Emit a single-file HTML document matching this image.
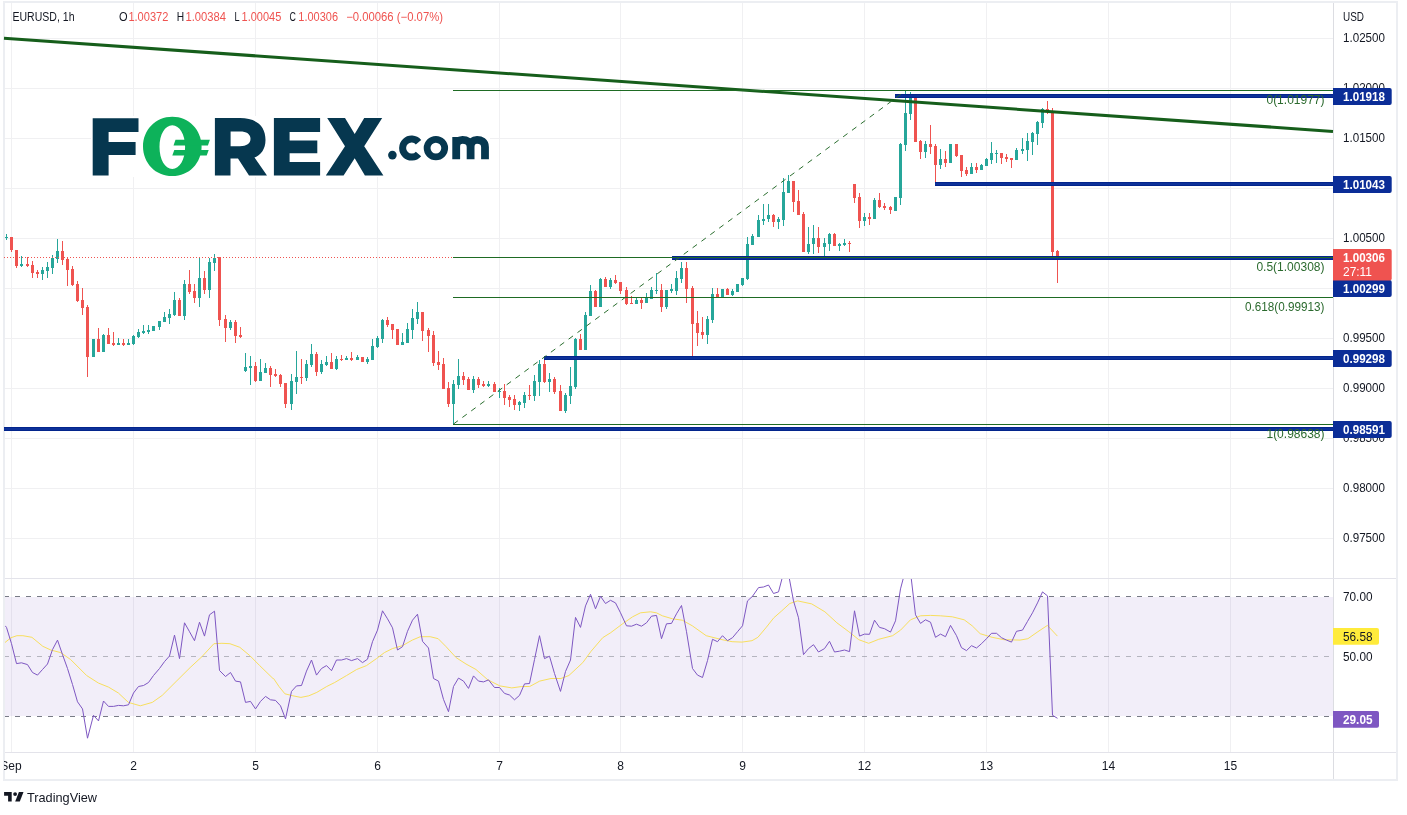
<!DOCTYPE html>
<html><head><meta charset="utf-8"><style>
html,body{margin:0;padding:0;background:#fff;overflow:hidden}
svg{display:block;font-family:"Liberation Sans", sans-serif;will-change:transform}
</style></head><body>
<svg width="1407" height="815" viewBox="0 0 1407 815">
<rect x="0" y="0" width="1407" height="815" fill="#fff"/>
<rect x="11" y="3" width="1" height="749" fill="#f0f0f2"/>
<rect x="133" y="3" width="1" height="749" fill="#f0f0f2"/>
<rect x="255" y="3" width="1" height="749" fill="#f0f0f2"/>
<rect x="377" y="3" width="1" height="749" fill="#f0f0f2"/>
<rect x="499" y="3" width="1" height="749" fill="#f0f0f2"/>
<rect x="620" y="3" width="1" height="749" fill="#f0f0f2"/>
<rect x="742" y="3" width="1" height="749" fill="#f0f0f2"/>
<rect x="864" y="3" width="1" height="749" fill="#f0f0f2"/>
<rect x="986" y="3" width="1" height="749" fill="#f0f0f2"/>
<rect x="1108" y="3" width="1" height="749" fill="#f0f0f2"/>
<rect x="1230" y="3" width="1" height="749" fill="#f0f0f2"/>
<rect x="4" y="38" width="1329" height="1" fill="#f0f0f2"/>
<rect x="4" y="88" width="1329" height="1" fill="#f0f0f2"/>
<rect x="4" y="138" width="1329" height="1" fill="#f0f0f2"/>
<rect x="4" y="188" width="1329" height="1" fill="#f0f0f2"/>
<rect x="4" y="238" width="1329" height="1" fill="#f0f0f2"/>
<rect x="4" y="288" width="1329" height="1" fill="#f0f0f2"/>
<rect x="4" y="338" width="1329" height="1" fill="#f0f0f2"/>
<rect x="4" y="388" width="1329" height="1" fill="#f0f0f2"/>
<rect x="4" y="438" width="1329" height="1" fill="#f0f0f2"/>
<rect x="4" y="488" width="1329" height="1" fill="#f0f0f2"/>
<rect x="4" y="538" width="1329" height="1" fill="#f0f0f2"/>
<rect x="5" y="597" width="1328" height="119" fill="#7e57c2" fill-opacity="0.1"/>
<line x1="4" y1="596.5" x2="1333" y2="596.5" stroke="#787b86" stroke-opacity="1" stroke-width="1" stroke-dasharray="5 6"/>
<line x1="4" y1="656.5" x2="1333" y2="656.5" stroke="#787b86" stroke-opacity="0.5" stroke-width="1" stroke-dasharray="5 6"/>
<line x1="4" y1="716.5" x2="1333" y2="716.5" stroke="#787b86" stroke-opacity="1" stroke-width="1" stroke-dasharray="5 6"/>
<rect x="3" y="1" width="1395" height="2" fill="#eceef2"/>
<rect x="3" y="1" width="2" height="780" fill="#eceef2"/>
<rect x="1396" y="1" width="2" height="780" fill="#eceef2"/>
<rect x="3" y="779" width="1395" height="2" fill="#eceef2"/>
<rect x="1333" y="3" width="1" height="776" fill="#dcdde2"/>
<rect x="5" y="578" width="1391" height="1" fill="#e3e3ea"/>
<rect x="5" y="752" width="1391" height="1" fill="#e3e3ea"/>
<rect x="91" y="116" width="399" height="61" fill="#fff"/>
<path d="M92.7 118.3 H138.5 V131.9 H108.6 V142 H135.6 V155 H108.6 V175.5 H92.7 Z" fill="#06374f"/>
<path d="M172.3 116.7 C189 116.7 201.6 130 201.6 146.4 C201.6 162.8 189 176.1 172.3 176.1 C155.6 176.1 143 162.8 143 146.4 C143 130 155.6 116.7 172.3 116.7 Z M172.3 125.3 C165 125.3 159.5 134.5 159.5 147.1 C159.5 159.7 165 168.9 172.3 168.9 C179.6 168.9 185.1 159.7 185.1 147.1 C185.1 134.5 179.6 125.3 172.3 125.3 Z" fill="#0db25a" fill-rule="evenodd"/>
<path d="M175.5 139.7 H209.9 L207.9 145.4 H173.5 Z M174.3 150 H208.7 L206.7 155.6 H172.3 Z" fill="#0db25a"/>
<path d="M214.9 118.1 H240 C256 118.1 265.5 125.5 265.5 140 C265.5 149 261 155 254.5 157.5 L267 175.4 H249 L238 158.5 H230.5 V175.4 H214.9 Z M230.6 131.5 V146.2 H240 C246.5 146.2 250.5 143.5 250.5 138.8 C250.5 134 246.5 131.5 240 131.5 Z" fill="#06374f" fill-rule="evenodd"/>
<path d="M273.9 118.1 H320.1 V132 H289.6 V140.5 H317.3 V153.3 H289.6 V161.9 H320.1 V175.4 H273.9 Z" fill="#06374f"/>
<path d="M327.2 118.1 H345 L354.7 134.1 L364.2 118.1 H382.2 L364.2 146.2 L383.4 175.4 H364.9 L354.7 158.3 L343.6 175.4 H325.8 L345 146.2 Z" fill="#06374f"/>
<circle cx="392.4" cy="155.1" r="4.3" fill="#06374f"/>
<path d="M418.5 142.3 A9 9 0 1 0 418.5 153.9" fill="none" stroke="#06374f" stroke-width="7"/>
<circle cx="435.9" cy="148.1" r="8.8" fill="none" stroke="#06374f" stroke-width="6.8"/>
<path d="M456.2 159.3 V137 M456.2 147 C456.2 141.5 459 139.8 462.5 139.8 C466.5 139.8 470.6 141.5 470.6 147 V159.3 M470.6 147 C470.6 141.5 473.5 139.8 477 139.8 C481 139.8 485 141.5 485 147 V159.3" fill="none" stroke="#06374f" stroke-width="7.8"/>
<rect x="6" y="234" width="1" height="6" fill="#26a69a"/>
<rect x="5" y="237" width="3" height="1" fill="#26a69a"/>
<rect x="11" y="237" width="1" height="15" fill="#ef5350"/>
<rect x="10" y="237" width="3" height="13" fill="#ef5350"/>
<rect x="16" y="250" width="1" height="18" fill="#ef5350"/>
<rect x="15" y="250" width="3" height="16" fill="#ef5350"/>
<rect x="21" y="256" width="1" height="11" fill="#26a69a"/>
<rect x="20" y="264" width="3" height="2" fill="#26a69a"/>
<rect x="27" y="257" width="1" height="10" fill="#ef5350"/>
<rect x="26" y="264" width="3" height="2" fill="#ef5350"/>
<rect x="32" y="261" width="1" height="17" fill="#ef5350"/>
<rect x="31" y="265" width="3" height="8" fill="#ef5350"/>
<rect x="37" y="270" width="1" height="8" fill="#ef5350"/>
<rect x="36" y="272" width="3" height="2" fill="#ef5350"/>
<rect x="42" y="267" width="1" height="13" fill="#26a69a"/>
<rect x="41" y="270" width="3" height="4" fill="#26a69a"/>
<rect x="47" y="262" width="1" height="16" fill="#26a69a"/>
<rect x="46" y="267" width="3" height="4" fill="#26a69a"/>
<rect x="52" y="255" width="1" height="19" fill="#26a69a"/>
<rect x="51" y="258" width="3" height="10" fill="#26a69a"/>
<rect x="57" y="239" width="1" height="24" fill="#26a69a"/>
<rect x="56" y="251" width="3" height="8" fill="#26a69a"/>
<rect x="62" y="241" width="1" height="24" fill="#ef5350"/>
<rect x="61" y="251" width="3" height="9" fill="#ef5350"/>
<rect x="67" y="257" width="1" height="29" fill="#ef5350"/>
<rect x="66" y="259" width="3" height="11" fill="#ef5350"/>
<rect x="72" y="266" width="1" height="20" fill="#ef5350"/>
<rect x="71" y="269" width="3" height="16" fill="#ef5350"/>
<rect x="77" y="281" width="1" height="21" fill="#ef5350"/>
<rect x="76" y="284" width="3" height="17" fill="#ef5350"/>
<rect x="82" y="288" width="1" height="27" fill="#ef5350"/>
<rect x="81" y="300" width="3" height="8" fill="#ef5350"/>
<rect x="87" y="305" width="1" height="72" fill="#ef5350"/>
<rect x="86" y="307" width="3" height="50" fill="#ef5350"/>
<rect x="93" y="339" width="1" height="18" fill="#26a69a"/>
<rect x="92" y="339" width="3" height="18" fill="#26a69a"/>
<rect x="98" y="328" width="1" height="24" fill="#ef5350"/>
<rect x="97" y="339" width="3" height="13" fill="#ef5350"/>
<rect x="103" y="334" width="1" height="18" fill="#26a69a"/>
<rect x="102" y="335" width="3" height="17" fill="#26a69a"/>
<rect x="108" y="328" width="1" height="16" fill="#ef5350"/>
<rect x="107" y="335" width="3" height="9" fill="#ef5350"/>
<rect x="113" y="332" width="1" height="14" fill="#ef5350"/>
<rect x="112" y="343" width="3" height="2" fill="#ef5350"/>
<rect x="118" y="338" width="1" height="7" fill="#26a69a"/>
<rect x="117" y="343" width="3" height="2" fill="#26a69a"/>
<rect x="123" y="339" width="1" height="7" fill="#ef5350"/>
<rect x="122" y="343" width="3" height="2" fill="#ef5350"/>
<rect x="128" y="339" width="1" height="6" fill="#26a69a"/>
<rect x="127" y="343" width="3" height="2" fill="#26a69a"/>
<rect x="133" y="335" width="1" height="10" fill="#26a69a"/>
<rect x="132" y="336" width="3" height="8" fill="#26a69a"/>
<rect x="138" y="329" width="1" height="9" fill="#26a69a"/>
<rect x="137" y="332" width="3" height="5" fill="#26a69a"/>
<rect x="143" y="325" width="1" height="9" fill="#26a69a"/>
<rect x="142" y="331" width="3" height="2" fill="#26a69a"/>
<rect x="148" y="325" width="1" height="9" fill="#26a69a"/>
<rect x="147" y="330" width="3" height="2" fill="#26a69a"/>
<rect x="153" y="326" width="1" height="5" fill="#26a69a"/>
<rect x="152" y="326" width="3" height="5" fill="#26a69a"/>
<rect x="159" y="321" width="1" height="9" fill="#26a69a"/>
<rect x="158" y="321" width="3" height="6" fill="#26a69a"/>
<rect x="164" y="312" width="1" height="10" fill="#26a69a"/>
<rect x="163" y="317" width="3" height="5" fill="#26a69a"/>
<rect x="169" y="309" width="1" height="15" fill="#26a69a"/>
<rect x="168" y="314" width="3" height="4" fill="#26a69a"/>
<rect x="174" y="292" width="1" height="24" fill="#26a69a"/>
<rect x="173" y="300" width="3" height="15" fill="#26a69a"/>
<rect x="179" y="298" width="1" height="18" fill="#ef5350"/>
<rect x="178" y="300" width="3" height="16" fill="#ef5350"/>
<rect x="184" y="280" width="1" height="40" fill="#26a69a"/>
<rect x="183" y="284" width="3" height="32" fill="#26a69a"/>
<rect x="189" y="270" width="1" height="24" fill="#ef5350"/>
<rect x="188" y="284" width="3" height="8" fill="#ef5350"/>
<rect x="194" y="284" width="1" height="19" fill="#ef5350"/>
<rect x="193" y="291" width="3" height="7" fill="#ef5350"/>
<rect x="199" y="257" width="1" height="50" fill="#26a69a"/>
<rect x="198" y="278" width="3" height="20" fill="#26a69a"/>
<rect x="204" y="271" width="1" height="23" fill="#ef5350"/>
<rect x="203" y="278" width="3" height="12" fill="#ef5350"/>
<rect x="209" y="258" width="1" height="40" fill="#26a69a"/>
<rect x="208" y="262" width="3" height="28" fill="#26a69a"/>
<rect x="214" y="254" width="1" height="17" fill="#26a69a"/>
<rect x="213" y="258" width="3" height="5" fill="#26a69a"/>
<rect x="219" y="257" width="1" height="69" fill="#ef5350"/>
<rect x="218" y="257" width="3" height="63" fill="#ef5350"/>
<rect x="225" y="315" width="1" height="27" fill="#ef5350"/>
<rect x="224" y="319" width="3" height="9" fill="#ef5350"/>
<rect x="230" y="320" width="1" height="10" fill="#26a69a"/>
<rect x="229" y="322" width="3" height="6" fill="#26a69a"/>
<rect x="235" y="320" width="1" height="23" fill="#ef5350"/>
<rect x="234" y="322" width="3" height="14" fill="#ef5350"/>
<rect x="240" y="327" width="1" height="11" fill="#ef5350"/>
<rect x="239" y="335" width="3" height="2" fill="#ef5350"/>
<rect x="245" y="353" width="1" height="19" fill="#26a69a"/>
<rect x="244" y="367" width="3" height="4" fill="#26a69a"/>
<rect x="250" y="356" width="1" height="29" fill="#26a69a"/>
<rect x="249" y="366" width="3" height="2" fill="#26a69a"/>
<rect x="255" y="362" width="1" height="20" fill="#ef5350"/>
<rect x="254" y="366" width="3" height="15" fill="#ef5350"/>
<rect x="260" y="359" width="1" height="22" fill="#26a69a"/>
<rect x="259" y="372" width="3" height="9" fill="#26a69a"/>
<rect x="265" y="363" width="1" height="10" fill="#26a69a"/>
<rect x="264" y="368" width="3" height="5" fill="#26a69a"/>
<rect x="270" y="366" width="1" height="21" fill="#ef5350"/>
<rect x="269" y="368" width="3" height="7" fill="#ef5350"/>
<rect x="275" y="369" width="1" height="8" fill="#ef5350"/>
<rect x="274" y="374" width="3" height="2" fill="#ef5350"/>
<rect x="280" y="374" width="1" height="13" fill="#ef5350"/>
<rect x="279" y="375" width="3" height="9" fill="#ef5350"/>
<rect x="285" y="383" width="1" height="25" fill="#ef5350"/>
<rect x="284" y="383" width="3" height="21" fill="#ef5350"/>
<rect x="291" y="374" width="1" height="36" fill="#26a69a"/>
<rect x="290" y="381" width="3" height="23" fill="#26a69a"/>
<rect x="296" y="351" width="1" height="43" fill="#26a69a"/>
<rect x="295" y="377" width="3" height="5" fill="#26a69a"/>
<rect x="301" y="359" width="1" height="25" fill="#ef5350"/>
<rect x="300" y="377" width="3" height="1" fill="#ef5350"/>
<rect x="306" y="360" width="1" height="21" fill="#26a69a"/>
<rect x="305" y="364" width="3" height="14" fill="#26a69a"/>
<rect x="311" y="344" width="1" height="23" fill="#26a69a"/>
<rect x="310" y="354" width="3" height="11" fill="#26a69a"/>
<rect x="316" y="352" width="1" height="24" fill="#ef5350"/>
<rect x="315" y="354" width="3" height="18" fill="#ef5350"/>
<rect x="321" y="360" width="1" height="14" fill="#26a69a"/>
<rect x="320" y="364" width="3" height="8" fill="#26a69a"/>
<rect x="326" y="356" width="1" height="10" fill="#26a69a"/>
<rect x="325" y="362" width="3" height="3" fill="#26a69a"/>
<rect x="331" y="353" width="1" height="16" fill="#ef5350"/>
<rect x="330" y="362" width="3" height="7" fill="#ef5350"/>
<rect x="336" y="356" width="1" height="14" fill="#26a69a"/>
<rect x="335" y="359" width="3" height="10" fill="#26a69a"/>
<rect x="341" y="355" width="1" height="6" fill="#ef5350"/>
<rect x="340" y="359" width="3" height="1" fill="#ef5350"/>
<rect x="346" y="356" width="1" height="4" fill="#26a69a"/>
<rect x="345" y="358" width="3" height="2" fill="#26a69a"/>
<rect x="351" y="352" width="1" height="9" fill="#ef5350"/>
<rect x="350" y="358" width="3" height="2" fill="#ef5350"/>
<rect x="357" y="355" width="1" height="5" fill="#26a69a"/>
<rect x="356" y="357" width="3" height="3" fill="#26a69a"/>
<rect x="362" y="357" width="1" height="5" fill="#ef5350"/>
<rect x="361" y="357" width="3" height="5" fill="#ef5350"/>
<rect x="367" y="357" width="1" height="7" fill="#26a69a"/>
<rect x="366" y="359" width="3" height="3" fill="#26a69a"/>
<rect x="372" y="339" width="1" height="21" fill="#26a69a"/>
<rect x="371" y="346" width="3" height="14" fill="#26a69a"/>
<rect x="377" y="336" width="1" height="12" fill="#26a69a"/>
<rect x="376" y="338" width="3" height="9" fill="#26a69a"/>
<rect x="382" y="319" width="1" height="24" fill="#26a69a"/>
<rect x="381" y="320" width="3" height="19" fill="#26a69a"/>
<rect x="387" y="317" width="1" height="10" fill="#ef5350"/>
<rect x="386" y="320" width="3" height="5" fill="#ef5350"/>
<rect x="392" y="324" width="1" height="15" fill="#ef5350"/>
<rect x="391" y="324" width="3" height="6" fill="#ef5350"/>
<rect x="397" y="329" width="1" height="16" fill="#ef5350"/>
<rect x="396" y="329" width="3" height="16" fill="#ef5350"/>
<rect x="402" y="333" width="1" height="12" fill="#26a69a"/>
<rect x="401" y="342" width="3" height="3" fill="#26a69a"/>
<rect x="407" y="323" width="1" height="20" fill="#26a69a"/>
<rect x="406" y="329" width="3" height="14" fill="#26a69a"/>
<rect x="412" y="309" width="1" height="30" fill="#26a69a"/>
<rect x="411" y="318" width="3" height="12" fill="#26a69a"/>
<rect x="417" y="302" width="1" height="22" fill="#26a69a"/>
<rect x="416" y="312" width="3" height="7" fill="#26a69a"/>
<rect x="422" y="312" width="1" height="29" fill="#ef5350"/>
<rect x="421" y="312" width="3" height="19" fill="#ef5350"/>
<rect x="428" y="328" width="1" height="24" fill="#ef5350"/>
<rect x="427" y="330" width="3" height="6" fill="#ef5350"/>
<rect x="433" y="331" width="1" height="35" fill="#ef5350"/>
<rect x="432" y="335" width="3" height="28" fill="#ef5350"/>
<rect x="438" y="351" width="1" height="19" fill="#ef5350"/>
<rect x="437" y="362" width="3" height="3" fill="#ef5350"/>
<rect x="443" y="358" width="1" height="31" fill="#ef5350"/>
<rect x="442" y="364" width="3" height="25" fill="#ef5350"/>
<rect x="448" y="382" width="1" height="25" fill="#ef5350"/>
<rect x="447" y="388" width="3" height="16" fill="#ef5350"/>
<rect x="453" y="380" width="1" height="44" fill="#26a69a"/>
<rect x="452" y="384" width="3" height="20" fill="#26a69a"/>
<rect x="458" y="359" width="1" height="30" fill="#26a69a"/>
<rect x="457" y="376" width="3" height="9" fill="#26a69a"/>
<rect x="463" y="372" width="1" height="13" fill="#ef5350"/>
<rect x="462" y="376" width="3" height="4" fill="#ef5350"/>
<rect x="468" y="377" width="1" height="13" fill="#ef5350"/>
<rect x="467" y="379" width="3" height="11" fill="#ef5350"/>
<rect x="473" y="376" width="1" height="17" fill="#26a69a"/>
<rect x="472" y="379" width="3" height="11" fill="#26a69a"/>
<rect x="478" y="377" width="1" height="11" fill="#ef5350"/>
<rect x="477" y="379" width="3" height="6" fill="#ef5350"/>
<rect x="483" y="381" width="1" height="6" fill="#ef5350"/>
<rect x="482" y="384" width="3" height="2" fill="#ef5350"/>
<rect x="488" y="381" width="1" height="6" fill="#26a69a"/>
<rect x="487" y="384" width="3" height="2" fill="#26a69a"/>
<rect x="494" y="382" width="1" height="10" fill="#ef5350"/>
<rect x="493" y="384" width="3" height="8" fill="#ef5350"/>
<rect x="499" y="388" width="1" height="10" fill="#26a69a"/>
<rect x="498" y="391" width="3" height="1" fill="#26a69a"/>
<rect x="504" y="384" width="1" height="21" fill="#ef5350"/>
<rect x="503" y="391" width="3" height="7" fill="#ef5350"/>
<rect x="509" y="395" width="1" height="12" fill="#ef5350"/>
<rect x="508" y="397" width="3" height="3" fill="#ef5350"/>
<rect x="514" y="395" width="1" height="15" fill="#ef5350"/>
<rect x="513" y="399" width="3" height="6" fill="#ef5350"/>
<rect x="519" y="401" width="1" height="10" fill="#26a69a"/>
<rect x="518" y="402" width="3" height="3" fill="#26a69a"/>
<rect x="524" y="392" width="1" height="16" fill="#26a69a"/>
<rect x="523" y="395" width="3" height="8" fill="#26a69a"/>
<rect x="529" y="385" width="1" height="15" fill="#ef5350"/>
<rect x="528" y="395" width="3" height="1" fill="#ef5350"/>
<rect x="534" y="375" width="1" height="26" fill="#26a69a"/>
<rect x="533" y="381" width="3" height="15" fill="#26a69a"/>
<rect x="539" y="360" width="1" height="36" fill="#26a69a"/>
<rect x="538" y="364" width="3" height="18" fill="#26a69a"/>
<rect x="544" y="358" width="1" height="25" fill="#ef5350"/>
<rect x="543" y="364" width="3" height="18" fill="#ef5350"/>
<rect x="549" y="373" width="1" height="19" fill="#26a69a"/>
<rect x="548" y="379" width="3" height="3" fill="#26a69a"/>
<rect x="554" y="377" width="1" height="17" fill="#ef5350"/>
<rect x="553" y="379" width="3" height="13" fill="#ef5350"/>
<rect x="560" y="385" width="1" height="26" fill="#ef5350"/>
<rect x="559" y="391" width="3" height="20" fill="#ef5350"/>
<rect x="565" y="393" width="1" height="20" fill="#26a69a"/>
<rect x="564" y="395" width="3" height="16" fill="#26a69a"/>
<rect x="570" y="367" width="1" height="37" fill="#26a69a"/>
<rect x="569" y="386" width="3" height="10" fill="#26a69a"/>
<rect x="575" y="338" width="1" height="51" fill="#26a69a"/>
<rect x="574" y="339" width="3" height="48" fill="#26a69a"/>
<rect x="580" y="334" width="1" height="16" fill="#ef5350"/>
<rect x="579" y="339" width="3" height="11" fill="#ef5350"/>
<rect x="585" y="312" width="1" height="38" fill="#26a69a"/>
<rect x="584" y="315" width="3" height="35" fill="#26a69a"/>
<rect x="590" y="285" width="1" height="31" fill="#26a69a"/>
<rect x="589" y="291" width="3" height="25" fill="#26a69a"/>
<rect x="595" y="290" width="1" height="17" fill="#ef5350"/>
<rect x="594" y="291" width="3" height="16" fill="#ef5350"/>
<rect x="600" y="278" width="1" height="29" fill="#26a69a"/>
<rect x="599" y="279" width="3" height="28" fill="#26a69a"/>
<rect x="605" y="277" width="1" height="10" fill="#ef5350"/>
<rect x="604" y="279" width="3" height="8" fill="#ef5350"/>
<rect x="610" y="278" width="1" height="11" fill="#26a69a"/>
<rect x="609" y="280" width="3" height="7" fill="#26a69a"/>
<rect x="615" y="275" width="1" height="9" fill="#ef5350"/>
<rect x="614" y="280" width="3" height="3" fill="#ef5350"/>
<rect x="620" y="282" width="1" height="12" fill="#ef5350"/>
<rect x="619" y="282" width="3" height="9" fill="#ef5350"/>
<rect x="626" y="287" width="1" height="18" fill="#ef5350"/>
<rect x="625" y="290" width="3" height="14" fill="#ef5350"/>
<rect x="631" y="296" width="1" height="8" fill="#ef5350"/>
<rect x="630" y="303" width="3" height="1" fill="#ef5350"/>
<rect x="636" y="298" width="1" height="6" fill="#26a69a"/>
<rect x="635" y="300" width="3" height="4" fill="#26a69a"/>
<rect x="641" y="298" width="1" height="11" fill="#ef5350"/>
<rect x="640" y="300" width="3" height="3" fill="#ef5350"/>
<rect x="646" y="293" width="1" height="10" fill="#26a69a"/>
<rect x="645" y="298" width="3" height="5" fill="#26a69a"/>
<rect x="651" y="287" width="1" height="12" fill="#26a69a"/>
<rect x="650" y="290" width="3" height="9" fill="#26a69a"/>
<rect x="656" y="273" width="1" height="21" fill="#26a69a"/>
<rect x="655" y="290" width="3" height="1" fill="#26a69a"/>
<rect x="661" y="284" width="1" height="28" fill="#ef5350"/>
<rect x="660" y="290" width="3" height="17" fill="#ef5350"/>
<rect x="666" y="290" width="1" height="19" fill="#26a69a"/>
<rect x="665" y="290" width="3" height="17" fill="#26a69a"/>
<rect x="671" y="284" width="1" height="9" fill="#26a69a"/>
<rect x="670" y="289" width="3" height="2" fill="#26a69a"/>
<rect x="676" y="271" width="1" height="24" fill="#26a69a"/>
<rect x="675" y="278" width="3" height="13" fill="#26a69a"/>
<rect x="681" y="262" width="1" height="21" fill="#26a69a"/>
<rect x="680" y="268" width="3" height="11" fill="#26a69a"/>
<rect x="686" y="262" width="1" height="41" fill="#ef5350"/>
<rect x="685" y="268" width="3" height="21" fill="#ef5350"/>
<rect x="692" y="286" width="1" height="70" fill="#ef5350"/>
<rect x="691" y="288" width="3" height="36" fill="#ef5350"/>
<rect x="697" y="311" width="1" height="35" fill="#ef5350"/>
<rect x="696" y="323" width="3" height="10" fill="#ef5350"/>
<rect x="702" y="317" width="1" height="22" fill="#ef5350"/>
<rect x="701" y="332" width="3" height="3" fill="#ef5350"/>
<rect x="707" y="316" width="1" height="28" fill="#26a69a"/>
<rect x="706" y="319" width="3" height="16" fill="#26a69a"/>
<rect x="712" y="288" width="1" height="35" fill="#26a69a"/>
<rect x="711" y="294" width="3" height="26" fill="#26a69a"/>
<rect x="717" y="288" width="1" height="9" fill="#ef5350"/>
<rect x="716" y="294" width="3" height="3" fill="#ef5350"/>
<rect x="722" y="289" width="1" height="8" fill="#26a69a"/>
<rect x="721" y="289" width="3" height="8" fill="#26a69a"/>
<rect x="727" y="288" width="1" height="7" fill="#ef5350"/>
<rect x="726" y="289" width="3" height="6" fill="#ef5350"/>
<rect x="732" y="289" width="1" height="7" fill="#26a69a"/>
<rect x="731" y="291" width="3" height="4" fill="#26a69a"/>
<rect x="737" y="284" width="1" height="8" fill="#26a69a"/>
<rect x="736" y="284" width="3" height="8" fill="#26a69a"/>
<rect x="742" y="278" width="1" height="8" fill="#26a69a"/>
<rect x="741" y="278" width="3" height="7" fill="#26a69a"/>
<rect x="747" y="237" width="1" height="43" fill="#26a69a"/>
<rect x="746" y="244" width="3" height="35" fill="#26a69a"/>
<rect x="752" y="234" width="1" height="11" fill="#26a69a"/>
<rect x="751" y="236" width="3" height="9" fill="#26a69a"/>
<rect x="758" y="215" width="1" height="22" fill="#26a69a"/>
<rect x="757" y="220" width="3" height="17" fill="#26a69a"/>
<rect x="763" y="204" width="1" height="21" fill="#26a69a"/>
<rect x="762" y="219" width="3" height="2" fill="#26a69a"/>
<rect x="768" y="204" width="1" height="18" fill="#26a69a"/>
<rect x="767" y="215" width="3" height="4" fill="#26a69a"/>
<rect x="773" y="214" width="1" height="13" fill="#ef5350"/>
<rect x="772" y="215" width="3" height="7" fill="#ef5350"/>
<rect x="778" y="217" width="1" height="12" fill="#26a69a"/>
<rect x="777" y="219" width="3" height="3" fill="#26a69a"/>
<rect x="783" y="178" width="1" height="48" fill="#26a69a"/>
<rect x="782" y="192" width="3" height="28" fill="#26a69a"/>
<rect x="788" y="175" width="1" height="18" fill="#26a69a"/>
<rect x="787" y="181" width="3" height="12" fill="#26a69a"/>
<rect x="793" y="181" width="1" height="31" fill="#ef5350"/>
<rect x="792" y="181" width="3" height="21" fill="#ef5350"/>
<rect x="798" y="190" width="1" height="25" fill="#ef5350"/>
<rect x="797" y="201" width="3" height="14" fill="#ef5350"/>
<rect x="803" y="212" width="1" height="40" fill="#ef5350"/>
<rect x="802" y="214" width="3" height="38" fill="#ef5350"/>
<rect x="808" y="227" width="1" height="27" fill="#26a69a"/>
<rect x="807" y="244" width="3" height="8" fill="#26a69a"/>
<rect x="813" y="225" width="1" height="29" fill="#26a69a"/>
<rect x="812" y="238" width="3" height="6" fill="#26a69a"/>
<rect x="818" y="227" width="1" height="26" fill="#ef5350"/>
<rect x="817" y="238" width="3" height="9" fill="#ef5350"/>
<rect x="824" y="238" width="1" height="18" fill="#26a69a"/>
<rect x="823" y="243" width="3" height="4" fill="#26a69a"/>
<rect x="829" y="233" width="1" height="18" fill="#26a69a"/>
<rect x="828" y="234" width="3" height="10" fill="#26a69a"/>
<rect x="834" y="233" width="1" height="13" fill="#ef5350"/>
<rect x="833" y="234" width="3" height="12" fill="#ef5350"/>
<rect x="839" y="243" width="1" height="8" fill="#26a69a"/>
<rect x="838" y="244" width="3" height="2" fill="#26a69a"/>
<rect x="844" y="239" width="1" height="7" fill="#26a69a"/>
<rect x="843" y="243" width="3" height="2" fill="#26a69a"/>
<rect x="849" y="241" width="1" height="11" fill="#ef5350"/>
<rect x="848" y="243" width="3" height="1" fill="#ef5350"/>
<rect x="854" y="184" width="1" height="19" fill="#ef5350"/>
<rect x="853" y="184" width="3" height="14" fill="#ef5350"/>
<rect x="859" y="193" width="1" height="35" fill="#ef5350"/>
<rect x="858" y="197" width="3" height="24" fill="#ef5350"/>
<rect x="864" y="213" width="1" height="13" fill="#26a69a"/>
<rect x="863" y="217" width="3" height="4" fill="#26a69a"/>
<rect x="869" y="213" width="1" height="12" fill="#ef5350"/>
<rect x="868" y="217" width="3" height="2" fill="#ef5350"/>
<rect x="874" y="198" width="1" height="21" fill="#26a69a"/>
<rect x="873" y="200" width="3" height="19" fill="#26a69a"/>
<rect x="879" y="193" width="1" height="15" fill="#ef5350"/>
<rect x="878" y="200" width="3" height="7" fill="#ef5350"/>
<rect x="884" y="203" width="1" height="7" fill="#ef5350"/>
<rect x="883" y="206" width="3" height="2" fill="#ef5350"/>
<rect x="890" y="206" width="1" height="8" fill="#ef5350"/>
<rect x="889" y="207" width="3" height="3" fill="#ef5350"/>
<rect x="895" y="197" width="1" height="14" fill="#26a69a"/>
<rect x="894" y="197" width="3" height="14" fill="#26a69a"/>
<rect x="900" y="143" width="1" height="62" fill="#26a69a"/>
<rect x="899" y="144" width="3" height="54" fill="#26a69a"/>
<rect x="905" y="91" width="1" height="60" fill="#26a69a"/>
<rect x="904" y="113" width="3" height="32" fill="#26a69a"/>
<rect x="910" y="92" width="1" height="28" fill="#26a69a"/>
<rect x="909" y="98" width="3" height="16" fill="#26a69a"/>
<rect x="915" y="98" width="1" height="44" fill="#ef5350"/>
<rect x="914" y="98" width="3" height="44" fill="#ef5350"/>
<rect x="920" y="140" width="1" height="19" fill="#ef5350"/>
<rect x="919" y="141" width="3" height="11" fill="#ef5350"/>
<rect x="925" y="141" width="1" height="17" fill="#26a69a"/>
<rect x="924" y="144" width="3" height="8" fill="#26a69a"/>
<rect x="930" y="125" width="1" height="29" fill="#ef5350"/>
<rect x="929" y="144" width="3" height="3" fill="#ef5350"/>
<rect x="935" y="144" width="1" height="38" fill="#ef5350"/>
<rect x="934" y="146" width="3" height="19" fill="#ef5350"/>
<rect x="940" y="149" width="1" height="20" fill="#26a69a"/>
<rect x="939" y="159" width="3" height="6" fill="#26a69a"/>
<rect x="945" y="151" width="1" height="16" fill="#ef5350"/>
<rect x="944" y="159" width="3" height="4" fill="#ef5350"/>
<rect x="950" y="144" width="1" height="19" fill="#26a69a"/>
<rect x="949" y="144" width="3" height="19" fill="#26a69a"/>
<rect x="956" y="144" width="1" height="13" fill="#ef5350"/>
<rect x="955" y="144" width="3" height="12" fill="#ef5350"/>
<rect x="961" y="155" width="1" height="22" fill="#ef5350"/>
<rect x="960" y="155" width="3" height="16" fill="#ef5350"/>
<rect x="966" y="167" width="1" height="9" fill="#ef5350"/>
<rect x="965" y="170" width="3" height="4" fill="#ef5350"/>
<rect x="971" y="163" width="1" height="11" fill="#26a69a"/>
<rect x="970" y="167" width="3" height="7" fill="#26a69a"/>
<rect x="976" y="163" width="1" height="10" fill="#ef5350"/>
<rect x="975" y="167" width="3" height="3" fill="#ef5350"/>
<rect x="981" y="164" width="1" height="6" fill="#26a69a"/>
<rect x="980" y="165" width="3" height="5" fill="#26a69a"/>
<rect x="986" y="158" width="1" height="8" fill="#26a69a"/>
<rect x="985" y="159" width="3" height="7" fill="#26a69a"/>
<rect x="991" y="142" width="1" height="22" fill="#26a69a"/>
<rect x="990" y="153" width="3" height="7" fill="#26a69a"/>
<rect x="996" y="150" width="1" height="13" fill="#26a69a"/>
<rect x="995" y="153" width="3" height="1" fill="#26a69a"/>
<rect x="1001" y="153" width="1" height="11" fill="#ef5350"/>
<rect x="1000" y="153" width="3" height="5" fill="#ef5350"/>
<rect x="1006" y="154" width="1" height="8" fill="#ef5350"/>
<rect x="1005" y="157" width="3" height="2" fill="#ef5350"/>
<rect x="1011" y="158" width="1" height="10" fill="#ef5350"/>
<rect x="1010" y="158" width="3" height="2" fill="#ef5350"/>
<rect x="1016" y="148" width="1" height="12" fill="#26a69a"/>
<rect x="1015" y="150" width="3" height="10" fill="#26a69a"/>
<rect x="1022" y="138" width="1" height="16" fill="#26a69a"/>
<rect x="1021" y="149" width="3" height="2" fill="#26a69a"/>
<rect x="1027" y="133" width="1" height="28" fill="#26a69a"/>
<rect x="1026" y="141" width="3" height="9" fill="#26a69a"/>
<rect x="1032" y="132" width="1" height="23" fill="#26a69a"/>
<rect x="1031" y="133" width="3" height="9" fill="#26a69a"/>
<rect x="1037" y="121" width="1" height="24" fill="#26a69a"/>
<rect x="1036" y="122" width="3" height="12" fill="#26a69a"/>
<rect x="1042" y="108" width="1" height="20" fill="#26a69a"/>
<rect x="1041" y="109" width="3" height="14" fill="#26a69a"/>
<rect x="1047" y="101" width="1" height="13" fill="#ef5350"/>
<rect x="1046" y="109" width="3" height="1" fill="#ef5350"/>
<rect x="1052" y="108" width="1" height="148" fill="#ef5350"/>
<rect x="1051" y="113" width="3" height="139" fill="#ef5350"/>
<rect x="1057" y="250" width="1" height="33" fill="#ef5350"/>
<rect x="1056" y="251" width="3" height="7" fill="#ef5350"/>
<line x1="4" y1="38.2" x2="1333" y2="131.4" stroke="#165e1b" stroke-width="3"/>
<line x1="4" y1="257.5" x2="1333" y2="257.5" stroke="#ef5350" stroke-width="1" stroke-dasharray="1 2"/>
<rect x="895" y="94" width="438" height="4" fill="#03258c"/>
<rect x="895" y="95" width="438" height="2" fill="#0d3199"/>
<rect x="935" y="182" width="398" height="4" fill="#03258c"/>
<rect x="935" y="183" width="398" height="2" fill="#0d3199"/>
<rect x="672" y="256" width="661" height="4" fill="#03258c"/>
<rect x="672" y="257" width="661" height="2" fill="#0d3199"/>
<rect x="544" y="356" width="789" height="4" fill="#03258c"/>
<rect x="544" y="357" width="789" height="2" fill="#0d3199"/>
<rect x="4" y="427" width="1329" height="4" fill="#03258c"/>
<rect x="4" y="428" width="1329" height="2" fill="#0d3199"/>
<rect x="453" y="90" width="880" height="1" fill="#1e6b23"/>
<rect x="453" y="257" width="880" height="1" fill="#1e6b23"/>
<rect x="453" y="297" width="880" height="1" fill="#1e6b23"/>
<rect x="453" y="424" width="880" height="1" fill="#1e6b23"/>
<line x1="453.5" y1="424" x2="906" y2="90.5" stroke="#2a6e2e" stroke-width="1" stroke-dasharray="5.5 5.5"/>
<clipPath id="rc"><rect x="5" y="579" width="1328" height="173"/></clipPath>
<g clip-path="url(#rc)">
<polyline fill="none" stroke="#f8df5e" stroke-width="1" stroke-linejoin="round" points="4.0,643.3 11.0,637.7 16.9,635.7 22.9,635.7 31.9,637.3 42.8,646.3 50.8,650.0 60.7,652.6 70.7,659.6 86.6,675.5 98.5,683.1 108.5,687.1 118.4,693.0 128.4,702.4 140.3,705.8 152.3,702.4 162.2,695.4 176.1,681.5 190.1,667.6 202.0,656.6 213.9,643.7 221.9,643.3 229.9,643.7 239.8,647.3 249.8,655.6 259.7,665.6 273.0,678.5 273.6,678.5 279.0,686.5 284.9,693.8 292.9,695.8 300.9,697.4 308.8,695.8 316.8,692.4 326.7,686.5 334.7,682.5 346.6,675.5 356.6,669.5 366.5,665.6 376.5,658.6 384.4,652.6 392.4,648.6 402.4,645.7 412.3,640.1 420.3,636.7 430.2,636.7 438.2,638.7 446.1,646.7 456.1,657.6 466.0,664.0 476.0,669.5 487.9,679.9 499.9,685.9 511.8,687.9 521.8,686.5 529.7,686.5 539.7,681.1 551.0,678.5 560.9,678.5 568.9,675.5 582.8,662.6 590.8,651.6 602.7,637.7 610.7,632.7 622.6,623.8 632.6,616.8 640.5,612.8 650.5,611.8 656.4,612.8 662.4,615.8 672.4,618.8 682.3,620.2 692.3,625.8 706.2,635.7 722.1,639.7 732.1,641.7 742.0,642.1 752.0,640.7 757.9,637.3 765.9,627.8 773.8,617.8 781.8,610.8 789.8,603.5 797.7,600.9 811.7,603.9 824.9,611.8 836.9,622.8 848.8,631.7 858.8,639.7 868.7,643.3 878.7,639.3 892.6,635.7 900.6,630.1 910.5,619.8 920.5,615.8 930.4,615.4 940.4,615.8 952.3,616.8 964.2,619.8 972.2,625.8 980.2,633.7 992.1,637.3 1004.0,639.7 1020.0,640.1 1027.9,638.7 1037.9,631.7 1047.4,625.4 1057.4,636.1"/>
<polyline fill="none" stroke="#7e57c2" stroke-width="1" stroke-linejoin="round" points="5.2,625.8 6.5,627.4 11.5,643.7 16.5,663.6 21.5,662.8 27.5,664.6 32.5,672.5 37.5,675.1 42.5,669.5 47.5,664.0 52.5,649.6 57.5,640.1 62.5,654.6 67.5,668.5 72.5,684.5 77.5,701.8 82.5,708.9 87.5,738.2 93.5,715.3 98.5,720.9 103.5,701.0 108.5,706.4 113.5,706.4 118.5,705.4 123.5,705.8 128.5,704.8 133.5,693.0 138.5,686.5 143.5,685.5 148.5,682.5 153.5,675.5 159.5,668.5 164.5,661.6 169.5,656.0 174.5,635.1 179.5,658.6 184.5,622.8 189.5,631.7 194.5,640.7 199.5,622.2 204.5,636.1 209.5,614.8 214.5,611.2 219.5,670.5 225.5,676.5 230.5,672.5 235.5,681.1 240.5,681.9 245.5,702.4 250.5,701.4 255.5,708.9 260.5,701.4 265.5,696.4 270.5,699.8 275.5,700.4 280.5,705.8 285.5,718.9 291.5,691.4 296.5,685.9 301.5,685.5 306.5,671.1 311.5,660.0 316.5,675.1 321.5,668.5 326.5,665.6 331.5,670.7 336.5,660.0 341.5,660.0 346.5,658.6 351.5,660.6 357.5,658.6 362.5,662.6 367.5,659.2 372.5,641.7 377.5,630.1 382.5,610.8 387.5,618.8 392.5,627.8 397.5,650.0 402.5,646.7 407.5,631.3 412.5,620.2 417.5,614.2 422.5,641.3 428.5,648.0 433.5,678.5 438.5,681.1 443.5,699.4 448.5,711.7 453.5,686.5 458.5,678.1 463.5,681.1 468.5,688.4 473.5,675.9 478.5,681.1 483.5,681.9 488.5,679.9 494.5,687.5 499.5,687.5 504.5,693.4 509.5,695.0 514.5,699.8 519.5,695.4 524.5,683.9 529.5,683.5 534.5,659.6 539.5,635.7 544.5,658.6 549.5,656.2 554.5,673.5 560.5,691.4 565.5,671.5 570.5,660.0 575.5,617.4 580.5,627.4 585.5,605.9 590.5,594.3 595.5,608.8 600.5,596.3 605.5,603.5 610.5,600.3 615.5,602.9 620.5,612.8 626.5,625.8 631.5,626.2 636.5,624.2 641.5,626.2 646.5,622.8 651.5,616.2 656.5,615.4 661.5,638.7 666.5,623.8 671.5,623.4 676.5,613.8 681.5,605.5 686.5,631.7 692.5,668.5 697.5,675.1 702.5,677.5 707.5,660.6 712.5,639.3 717.5,641.7 722.5,635.7 727.5,640.7 732.5,637.7 737.5,631.7 742.5,625.8 747.5,600.9 752.5,596.3 758.5,587.6 763.5,587.0 768.5,585.0 773.5,593.5 778.5,591.9 783.5,573.0 788.5,574.0 793.5,600.9 798.5,617.8 803.5,654.6 808.5,648.6 813.5,644.7 818.5,652.0 824.5,648.6 829.5,641.3 834.5,652.0 839.5,651.2 844.5,650.0 849.5,651.6 854.5,610.8 859.5,636.1 864.5,634.1 869.5,634.3 874.5,620.2 879.5,627.4 884.5,628.7 890.5,632.1 895.5,620.8 900.5,588.9 905.5,570.0 910.5,572.0 915.5,614.8 920.5,623.4 925.5,619.8 930.5,622.2 935.5,637.3 940.5,634.1 945.5,636.7 950.5,625.4 956.5,635.7 961.5,647.7 966.5,650.6 971.5,645.7 976.5,648.0 981.5,643.7 986.5,638.7 991.5,633.3 996.5,633.3 1001.5,637.7 1006.5,640.1 1011.5,642.1 1016.5,631.3 1022.5,630.1 1027.5,621.4 1032.5,612.8 1037.5,602.9 1042.5,591.9 1047.5,595.9 1052.5,715.3 1057.5,718.3"/>
</g>
<text x="12.5" y="21" font-size="12" fill="#131722" text-anchor="start" font-weight="normal" textLength="62" lengthAdjust="spacingAndGlyphs">EURUSD, 1h</text>
<text x="118.9" y="21" font-size="12" fill="#131722" text-anchor="start" font-weight="normal" textLength="8.6" lengthAdjust="spacingAndGlyphs">O</text>
<text x="128.4" y="21" font-size="12" fill="#ef5350" text-anchor="start" font-weight="normal" textLength="40" lengthAdjust="spacingAndGlyphs">1.00372</text>
<text x="176.7" y="21" font-size="12" fill="#131722" text-anchor="start" font-weight="normal" textLength="7.4" lengthAdjust="spacingAndGlyphs">H</text>
<text x="185.4" y="21" font-size="12" fill="#ef5350" text-anchor="start" font-weight="normal" textLength="40.6" lengthAdjust="spacingAndGlyphs">1.00384</text>
<text x="234.4" y="21" font-size="12" fill="#131722" text-anchor="start" font-weight="normal" textLength="5.1" lengthAdjust="spacingAndGlyphs">L</text>
<text x="241.6" y="21" font-size="12" fill="#ef5350" text-anchor="start" font-weight="normal" textLength="39.7" lengthAdjust="spacingAndGlyphs">1.00045</text>
<text x="289.4" y="21" font-size="12" fill="#131722" text-anchor="start" font-weight="normal" textLength="6.4" lengthAdjust="spacingAndGlyphs">C</text>
<text x="298.3" y="21" font-size="12" fill="#ef5350" text-anchor="start" font-weight="normal" textLength="39.7" lengthAdjust="spacingAndGlyphs">1.00306</text>
<text x="346.2" y="21" font-size="12" fill="#ef5350" text-anchor="start" font-weight="normal" textLength="96.8" lengthAdjust="spacingAndGlyphs">−0.00066 (−0.07%)</text>
<text x="1343" y="20.5" font-size="12" fill="#131722" text-anchor="start" font-weight="normal" textLength="21" lengthAdjust="spacingAndGlyphs">USD</text>
<text x="1343" y="42.3" font-size="12" fill="#131722" text-anchor="start" font-weight="normal" textLength="42" lengthAdjust="spacingAndGlyphs">1.02500</text>
<text x="1343" y="92.3" font-size="12" fill="#131722" text-anchor="start" font-weight="normal" textLength="42" lengthAdjust="spacingAndGlyphs">1.02000</text>
<text x="1343" y="142.3" font-size="12" fill="#131722" text-anchor="start" font-weight="normal" textLength="42" lengthAdjust="spacingAndGlyphs">1.01500</text>
<text x="1343" y="242.3" font-size="12" fill="#131722" text-anchor="start" font-weight="normal" textLength="42" lengthAdjust="spacingAndGlyphs">1.00500</text>
<text x="1343" y="342.3" font-size="12" fill="#131722" text-anchor="start" font-weight="normal" textLength="42" lengthAdjust="spacingAndGlyphs">0.99500</text>
<text x="1343" y="392.3" font-size="12" fill="#131722" text-anchor="start" font-weight="normal" textLength="42" lengthAdjust="spacingAndGlyphs">0.99000</text>
<text x="1343" y="442.3" font-size="12" fill="#131722" text-anchor="start" font-weight="normal" textLength="42" lengthAdjust="spacingAndGlyphs">0.98500</text>
<text x="1343" y="492.3" font-size="12" fill="#131722" text-anchor="start" font-weight="normal" textLength="42" lengthAdjust="spacingAndGlyphs">0.98000</text>
<text x="1343" y="542.3" font-size="12" fill="#131722" text-anchor="start" font-weight="normal" textLength="42" lengthAdjust="spacingAndGlyphs">0.97500</text>
<path d="M1333 88 H1389.7 Q1391.7 88 1391.7 90 V103 Q1391.7 105 1389.7 105 H1333 Z" fill="#0b2d97"/>
<text x="1343" y="101" font-size="12" fill="#fff" text-anchor="start" font-weight="bold" textLength="42" lengthAdjust="spacingAndGlyphs">1.01918</text>
<path d="M1333 176 H1389.7 Q1391.7 176 1391.7 178 V191 Q1391.7 193 1389.7 193 H1333 Z" fill="#0b2d97"/>
<text x="1343" y="189" font-size="12" fill="#fff" text-anchor="start" font-weight="bold" textLength="42" lengthAdjust="spacingAndGlyphs">1.01043</text>
<path d="M1333 280 H1389.7 Q1391.7 280 1391.7 282 V295 Q1391.7 297 1389.7 297 H1333 Z" fill="#0b2d97"/>
<text x="1343" y="293" font-size="12" fill="#fff" text-anchor="start" font-weight="bold" textLength="42" lengthAdjust="spacingAndGlyphs">1.00299</text>
<path d="M1333 350 H1389.7 Q1391.7 350 1391.7 352 V365 Q1391.7 367 1389.7 367 H1333 Z" fill="#0b2d97"/>
<text x="1343" y="363" font-size="12" fill="#fff" text-anchor="start" font-weight="bold" textLength="42" lengthAdjust="spacingAndGlyphs">0.99298</text>
<path d="M1333 421 H1389.7 Q1391.7 421 1391.7 423 V436 Q1391.7 438 1389.7 438 H1333 Z" fill="#0b2d97"/>
<text x="1343" y="434" font-size="12" fill="#fff" text-anchor="start" font-weight="bold" textLength="42" lengthAdjust="spacingAndGlyphs">0.98591</text>
<path d="M1333 249 H1389.7 Q1391.7 249 1391.7 251 V278.5 Q1391.7 280.5 1389.7 280.5 H1333 Z" fill="#ef5350"/>
<text x="1343" y="262" font-size="12" fill="#fff" text-anchor="start" font-weight="bold" textLength="42" lengthAdjust="spacingAndGlyphs">1.00306</text>
<text x="1343" y="276" font-size="12" fill="#fff" text-anchor="start" font-weight="normal" textLength="29" lengthAdjust="spacingAndGlyphs">27:11</text>
<text x="1324.5" y="104.3" font-size="12" fill="#2b6a2e" text-anchor="end" font-weight="normal">0(1.01977)</text>
<text x="1324.5" y="270.90000000000003" font-size="12" fill="#2b6a2e" text-anchor="end" font-weight="normal">0.5(1.00308)</text>
<text x="1324.5" y="311.0" font-size="12" fill="#2b6a2e" text-anchor="end" font-weight="normal" textLength="79.5" lengthAdjust="spacingAndGlyphs">0.618(0.99913)</text>
<text x="1324.5" y="438.3" font-size="12" fill="#2b6a2e" text-anchor="end" font-weight="normal">1(0.98638)</text>
<text x="1343" y="600.8" font-size="12" fill="#131722" text-anchor="start" font-weight="normal" textLength="29.5" lengthAdjust="spacingAndGlyphs">70.00</text>
<text x="1343" y="660.8" font-size="12" fill="#131722" text-anchor="start" font-weight="normal" textLength="29.5" lengthAdjust="spacingAndGlyphs">50.00</text>
<path d="M1333 628 H1377 Q1379 628 1379 630 V642.7 Q1379 644.7 1377 644.7 H1333 Z" fill="#ffeb3b"/>
<text x="1343" y="640.7" font-size="12" fill="#131722" text-anchor="start" font-weight="normal" textLength="29.5" lengthAdjust="spacingAndGlyphs">56.58</text>
<path d="M1333 711 H1377 Q1379 711 1379 713 V725.8 Q1379 727.8 1377 727.8 H1333 Z" fill="#7e57c2"/>
<text x="1343" y="723.6" font-size="12" fill="#fff" text-anchor="start" font-weight="bold" textLength="29.5" lengthAdjust="spacingAndGlyphs">29.05</text>
<svg x="4" y="752" width="40" height="27"><text x="7" y="18.2" font-size="12" fill="#131722" text-anchor="middle">Sep</text></svg>
<text x="133.5" y="770.4" font-size="12" fill="#131722" text-anchor="middle" font-weight="normal">2</text>
<text x="255.5" y="770.4" font-size="12" fill="#131722" text-anchor="middle" font-weight="normal">5</text>
<text x="377.5" y="770.4" font-size="12" fill="#131722" text-anchor="middle" font-weight="normal">6</text>
<text x="499.5" y="770.4" font-size="12" fill="#131722" text-anchor="middle" font-weight="normal">7</text>
<text x="620.5" y="770.4" font-size="12" fill="#131722" text-anchor="middle" font-weight="normal">8</text>
<text x="742.5" y="770.4" font-size="12" fill="#131722" text-anchor="middle" font-weight="normal">9</text>
<text x="864.5" y="770.4" font-size="12" fill="#131722" text-anchor="middle" font-weight="normal">12</text>
<text x="986.5" y="770.4" font-size="12" fill="#131722" text-anchor="middle" font-weight="normal">13</text>
<text x="1108.5" y="770.4" font-size="12" fill="#131722" text-anchor="middle" font-weight="normal">14</text>
<text x="1230.5" y="770.4" font-size="12" fill="#131722" text-anchor="middle" font-weight="normal">15</text>
<path d="M4.1 792.1 H11.7 V801.6 H8.1 V795.8 H4.1 Z" fill="#131722"/>
<circle cx="15.1" cy="794.1" r="1.9" fill="#131722"/>
<path d="M18.9 792.1 H23.5 L19.8 801.6 H15.2 Z" fill="#131722"/>
<text x="27" y="801.5" font-size="13" fill="#131722" text-anchor="start" font-weight="normal" textLength="70" lengthAdjust="spacingAndGlyphs">TradingView</text>
</svg></body></html>
